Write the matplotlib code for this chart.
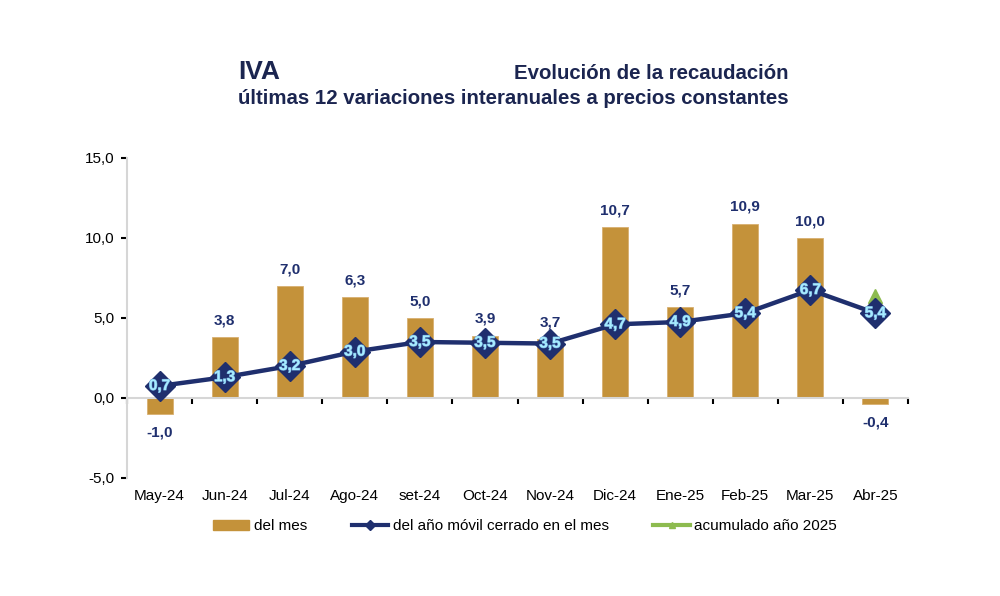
import numpy as np
import matplotlib
matplotlib.use("Agg")
import matplotlib.pyplot as plt
from matplotlib.lines import Line2D
from matplotlib.patches import Patch
import matplotlib.patheffects as pe

plt.rcParams['font.family'] = ['Liberation Sans', 'DejaVu Sans']

meses = ['May-24', 'Jun-24', 'Jul-24', 'Ago-24', 'set-24', 'Oct-24', 'Nov-24',
         'Dic-24', 'Ene-25', 'Feb-25', 'Mar-25', 'Abr-25']
del_mes = [-1.0, 3.8, 7.0, 6.3, 5.0, 3.9, 3.7, 10.7, 5.7, 10.9, 10.0, -0.4]
# posicion de la linea (las etiquetas no siempre coinciden)
movil = [0.75, 1.3, 2.0, 2.9, 3.5, 3.45, 3.4, 4.6, 4.75, 5.3, 6.75, 5.3]
movil_lbl = ['0,7', '1,3', '3,2', '3,0', '3,5', '3,5', '3,5', '4,7', '4,9', '5,4', '6,7', '5,4']
acum_2025 = 6.4

gold = '#C4923A'
navy = '#1F2F6E'
green = '#8DBB4F'

fig = plt.figure(figsize=(10, 5.96), dpi=100)
ax = fig.add_axes([0.127, 0.198, 0.781, 0.537])
x = np.arange(len(meses))

ax.bar(x, del_mes, width=0.4, color=gold, edgecolor='#D8B070', linewidth=0.6, zorder=2)
ax.plot(x, movil, color=navy, lw=3.2, marker='D', ms=15, mec=navy, mfc=navy, zorder=3)
ax.plot(x[-1], acum_2025, marker='^', ms=10, color=green, zorder=2.5)

for xi, v in zip(x, del_mes):
    txt = f'{v:.1f}'.replace('.', ',')
    off = 7 if v >= 0 else -8
    ax.annotate(txt, (xi, v), xytext=(0, off), textcoords='offset points',
                ha='center', va='bottom' if v >= 0 else 'top',
                fontsize=11, fontweight='bold', color=navy, zorder=4)

for xi, v, s in zip(x, movil, movil_lbl):
    ax.text(xi, v, s, ha='center', va='center', fontsize=11, fontweight='bold',
            color='#A8ECFF', zorder=5,
            path_effects=[pe.withStroke(linewidth=0.8, foreground='#6FA8D8')])

ax.set_xlim(-0.5, len(meses) - 0.5)
ax.set_ylim(-5, 15)
ax.set_yticks([-5, 0, 5, 10, 15])
ax.set_yticklabels([f'{t:.1f}'.replace('.', ',') for t in [-5, 0, 5, 10, 15]], fontsize=11)
ax.tick_params(axis='y', length=4, width=1.5, color='black', pad=5)

for s in ['top', 'right']:
    ax.spines[s].set_visible(False)
ax.spines['left'].set_color('#D6D6D6')
ax.spines['left'].set_linewidth(1.5)
ax.spines['bottom'].set_position(('data', 0))
ax.spines['bottom'].set_color('#D6D6D6')
ax.spines['bottom'].set_linewidth(1.5)
ax.set_xticks(np.arange(len(meses) + 1) - 0.5)
ax.set_xticklabels([])
ax.tick_params(axis='x', length=4, width=1.5, color='black', direction='out')

trans = matplotlib.transforms.blended_transform_factory(ax.transData, ax.transAxes)
for xi, m in zip(x, meses):
    ax.text(xi, -0.057, m, transform=trans, ha='center', va='center', fontsize=11)

fig.text(0.238, 0.879, 'IVA', fontsize=19, fontweight='bold', color='#1B2550', va='center')
fig.text(0.789, 0.877, 'Evolución de la recaudación', fontsize=14.7, fontweight='bold',
         color='#1B2550', ha='right', va='center')
fig.text(0.789, 0.834, 'últimas 12 variaciones interanuales a precios constantes', fontsize=14.7,
         fontweight='bold', color='#1B2550', ha='right', va='center')

handles = [Patch(color=gold),
           Line2D([], [], color=navy, lw=3, marker='D', ms=5),
           Line2D([], [], color=green, lw=3, marker='^', ms=5)]
labels = ['del mes', 'del año móvil cerrado en el mes', 'acumulado año 2025']
fig.legend(handles, labels, loc='center', bbox_to_anchor=(0.525, 0.117), ncol=3,
           frameon=False, fontsize=11, handlelength=2.4, columnspacing=2.9, handletextpad=0.3)

fig.savefig('out.png', dpi=100)
